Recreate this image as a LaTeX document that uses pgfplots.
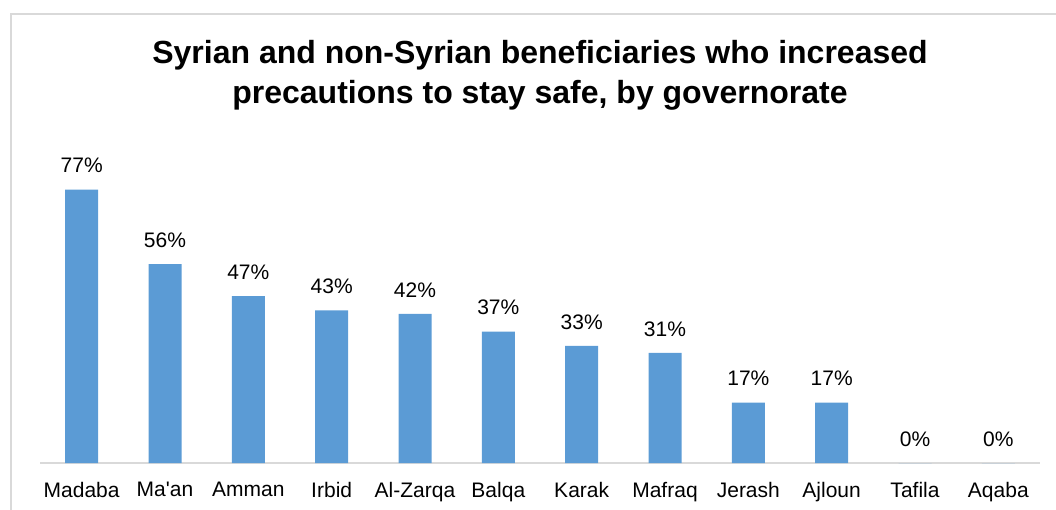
\documentclass[border=0pt]{standalone}
\usepackage{pgfplots}
\pgfplotsset{compat=1.18}
\usepackage{fontspec}
\setmainfont{Liberation Sans}
\definecolor{barblue}{HTML}{5B9BD5}
\definecolor{framegray}{HTML}{D9D9D9}
\begin{document}
\begin{tikzpicture}
\path[use as bounding box] (0,0) rectangle (1056pt,-510pt);
\draw[framegray, line width=1.5pt] (11pt,-510pt) -- (11pt,-14pt) -- (1056pt,-14pt);
\node[align=center, font=\fontsize{32}{40}\selectfont\bfseries] at (540pt,-75pt)
  {Syrian and non-Syrian beneficiaries who increased\\precautions to stay safe, by governorate};
\begin{axis}[
  at={(40pt,-463pt)}, anchor=south west,
  scale only axis, width=1000pt, height=355pt,
  xmin=-0.5, xmax=11.5, ymin=0, ymax=100,
  axis x line=bottom, axis y line=none,
  axis line style={framegray, line width=1.5pt, -},
  xtick=data, xticklabels={Madaba,Ma\textquotesingle an,Amman,Irbid,Al-Zarqa,Balqa,Karak,Mafraq,Jerash,Ajloun,Tafila,Aqaba},
  xtick style={draw=none},
  xticklabel style={font=\fontsize{21}{25}\selectfont, yshift=-11pt},
  ytick=\empty,
  ybar, bar width=33pt,
  nodes near coords={\pgfmathprintnumber[assume math mode=true]{\pgfplotspointmeta}\%},
  nodes near coords style={font=\fontsize{21}{25}\selectfont, black, yshift=13pt},
  clip=false,
]
\addplot[fill=barblue, draw=none] coordinates {
(0,77) (1,56) (2,47) (3,43) (4,42) (5,37) (6,33) (7,31) (8,17) (9,17) (10,0) (11,0)};
\end{axis}
\end{tikzpicture}
\end{document}
